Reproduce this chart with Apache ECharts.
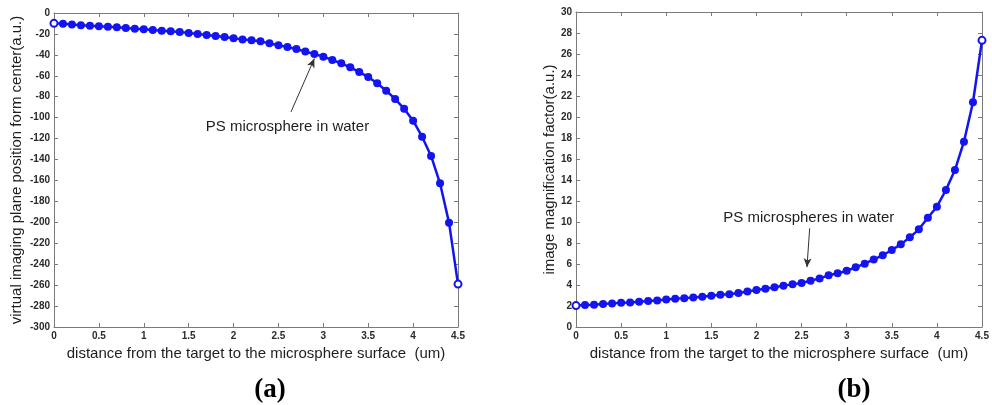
<!DOCTYPE html>
<html>
<head>
<meta charset="utf-8">
<script src="https://cdn.jsdelivr.net/npm/echarts@6/dist/echarts.min.js"></script>
<style>
  html, body { margin: 0; padding: 0; background: #fff; }
  #chart { width: 992px; height: 405px; }
</style>
</head>
<body>
<div id="chart"></div>
<script>
// distance from the target to the microsphere surface (um)
const distance = [
  0, 0.1, 0.2, 0.3, 0.4, 0.5, 0.6, 0.7, 0.8, 0.9,
  1.0, 1.1, 1.2, 1.3, 1.4, 1.5, 1.6, 1.7, 1.8, 1.9,
  2.0, 2.1, 2.2, 2.3, 2.4, 2.5, 2.6, 2.7, 2.8, 2.9,
  3.0, 3.1, 3.2, 3.3, 3.4, 3.5, 3.6, 3.7, 3.8, 3.9,
  4.0, 4.1, 4.2, 4.3, 4.4, 4.5
];

// (a) virtual imaging plane position from center (a.u.)
const imagePosition = [
  -9.9, -10.2, -11.1, -11.8, -12.1, -12.7, -13.1, -13.7, -14.3, -15.0,
  -15.6, -16.2, -16.9, -17.5, -18.2, -19.1, -20.1, -21.0, -22.0, -22.9,
  -24.2, -25.2, -26.1, -27.1, -29.0, -30.9, -32.5, -34.4, -36.9, -39.2,
  -41.7, -44.9, -48.1, -51.9, -56.4, -61.1, -67.2, -74.2, -82.2, -91.4,
  -102.9, -118.2, -136.6, -162.7, -200.3, -259.0
];

// (b) image magnification factor (a.u.)
const magnification = [
  2.04, 2.09, 2.12, 2.18, 2.25, 2.31, 2.34, 2.41, 2.47, 2.53,
  2.63, 2.69, 2.75, 2.82, 2.88, 2.97, 3.07, 3.13, 3.23, 3.38,
  3.52, 3.65, 3.78, 3.94, 4.06, 4.19, 4.41, 4.63, 4.92, 5.11,
  5.36, 5.68, 6.03, 6.44, 6.83, 7.33, 7.87, 8.54, 9.30, 10.41,
  11.46, 13.05, 14.95, 17.65, 21.4, 27.3
];

const xTicks = { min: 0, max: 4.5, interval: 0.5 };
const yTicksA = { min: -300, max: 0, interval: 20 };
const yTicksB = { min: 0, max: 30, interval: 2 };

const xTitle = 'distance from the target to the microsphere surface  (um)';
const yTitleA = 'virtual imaging plane position form center(a.u.)';
const yTitleB = 'image magnification factor(a.u.)';
const noteA = 'PS microsphere in water';
const noteB = 'PS microspheres in water';
const panelA = '(a)';
const panelB = '(b)';

// annotation anchors in data units: text centre, arrow tail, arrow head
const noteAPos = { text: [2.60, -109], tail: [2.64, -94.5], head: [2.90, -43.5] };
const noteBPos = { text: [2.58, 10.4], tail: [2.59, 9.4], head: [2.56, 5.7] };

const FONT = '"Liberation Sans", Arial, sans-serif';
const SERIF = '"Liberation Serif", "Times New Roman", serif';
const TEXT = '#1e1e1e';
const FRAME = '#7a7a7a';
const BLUE = '#1414f0';

// end points are drawn as open rings, the rest as filled dots
function pairs(xs, ys) {
  return xs.map((x, i) => {
    const item = { value: [x, ys[i]] };
    if (i === 0 || i === xs.length - 1) {
      item.symbol = 'emptyCircle';
      item.symbolSize = 7;
      item.itemStyle = { color: BLUE, borderWidth: 2 };
    }
    return item;
  });
}

const tickLabel = { fontFamily: FONT, fontSize: 10, fontWeight: 'bold', color: '#2a2a2a' };
const titleText = { fontFamily: FONT, fontSize: 15, color: TEXT };

function xAxes(gridIndex) {
  const base = {
    type: 'value', gridIndex, ...xTicks,
    splitLine: { show: false },
    axisLine: { show: true, onZero: false, lineStyle: { color: FRAME, width: 1 } },
    axisTick: { show: true, inside: true, length: 4, lineStyle: { color: FRAME } }
  };
  return [
    Object.assign({}, base, {
      position: 'bottom',
      name: xTitle, nameLocation: 'middle', nameGap: 15,
      nameTextStyle: titleText,
      axisLabel: Object.assign({ margin: 4 }, tickLabel)
    }),
    Object.assign({}, base, { position: 'top', axisLabel: { show: false } })
  ];
}

function yAxes(gridIndex, ticks, title, gap) {
  const base = {
    type: 'value', gridIndex, ...ticks,
    splitLine: { show: false },
    axisLine: { show: true, onZero: false, lineStyle: { color: FRAME, width: 1 } },
    axisTick: { show: true, inside: true, length: 4, lineStyle: { color: FRAME } }
  };
  return [
    Object.assign({}, base, {
      position: 'left',
      name: title, nameLocation: 'middle', nameGap: gap, nameRotate: 90,
      nameTextStyle: titleText,
      axisLabel: Object.assign({ margin: 4 }, tickLabel)
    }),
    Object.assign({}, base, { position: 'right', axisLabel: { show: false } })
  ];
}

function curve(xIndex, yIndex, ys, note, pos) {
  return {
    type: 'line', xAxisIndex: xIndex, yAxisIndex: yIndex,
    data: pairs(distance, ys),
    symbol: 'circle', symbolSize: 8,
    itemStyle: { color: BLUE },
    lineStyle: { color: BLUE, width: 2.5 },
    clip: false,
    z: 3,
    markLine: {
      silent: true,
      symbol: ['none', 'arrow'], symbolSize: [6, 9],
      lineStyle: { color: '#333', width: 1, type: 'solid' },
      label: { show: false },
      data: [[{ coord: pos.tail }, { coord: pos.head }]]
    },
    markPoint: {
      silent: true,
      symbol: 'circle', symbolSize: 0,
      label: Object.assign({ show: true, position: 'inside', formatter: note }, titleText),
      data: [{ coord: pos.text }]
    }
  };
}

const chart = echarts.init(document.getElementById('chart'), null, { renderer: 'canvas' });
chart.setOption({
  animation: false,
  backgroundColor: '#fff',
  grid: [
    { left: 54, top: 13, width: 404, height: 314 },
    { left: 576, top: 12, width: 406, height: 315 }
  ],
  xAxis: [...xAxes(0), ...xAxes(1)],
  yAxis: [...yAxes(0, yTicksA, yTitleA, 30), ...yAxes(1, yTicksB, yTitleB, 19)],
  series: [
    curve(0, 0, imagePosition, noteA, noteAPos),
    curve(2, 2, magnification, noteB, noteBPos)
  ],
  graphic: [
    { type: 'text', x: 270, y: 390,
      style: { text: panelA, font: 'bold 27px ' + SERIF, fill: '#000',
               align: 'center', verticalAlign: 'middle' } },
    { type: 'text', x: 854, y: 390,
      style: { text: panelB, font: 'bold 27px ' + SERIF, fill: '#000',
               align: 'center', verticalAlign: 'middle' } }
  ]
});
</script>
</body>
</html>
